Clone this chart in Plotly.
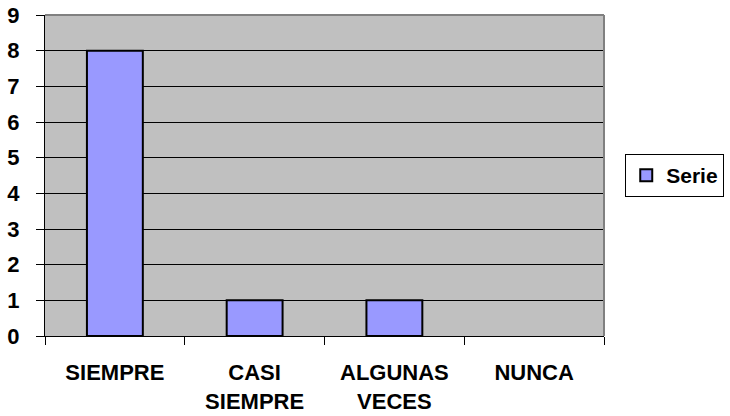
import plotly.graph_objects as go

categories = ["SIEMPRE", "CASI<br>SIEMPRE", "ALGUNAS<br>VECES", "NUNCA"]
values = [8, 1, 1, 0]
series_name = "Serie"
y_ticks = list(range(0, 10))

FONT = "Liberation Sans"
TXT = dict(family=FONT, size=22, color="black")

fig = go.Figure()
fig.add_trace(go.Bar(
    x=categories, y=values, name="<b>" + series_name + "</b>",
    marker=dict(color="#9999FF",
                line=dict(color="black", width=[2 if v else 0 for v in values])),
    width=0.4, showlegend=True,
))

fig.update_layout(
    width=730, height=416,
    margin=dict(l=45, r=126, t=15, b=80, autoexpand=False),
    paper_bgcolor="white",
    plot_bgcolor="#C0C0C0",
    font=TXT,
    showlegend=True,
    legend=dict(
        x=1.038, y=0.5, xanchor="left", yanchor="middle",
        bordercolor="black", borderwidth=1,
        font=dict(family=FONT, size=21, color="black"),
        itemwidth=30,
    ),
)

fig.update_xaxes(
    type="category", automargin=False,
    tickson="boundaries",
    ticks="outside", ticklen=8, tickcolor="black", tickwidth=1,
    showline=True, linecolor="black", linewidth=1,
    showgrid=False,
    tickvals=categories,
    ticktext=["<b>" + c + "</b>" for c in categories],
    ticklabelstandoff=17,
    tickfont=TXT,
)
fig.update_yaxes(
    range=[0, 9], automargin=False,
    tickvals=y_ticks,
    ticktext=["<b>%d</b>" % t for t in y_ticks],
    ticks="outside", ticklen=8, tickcolor="black", tickwidth=1,
    showline=True, linecolor="black", linewidth=1,
    showgrid=True, gridcolor="black", gridwidth=1,
    zeroline=False,
    ticklabelstandoff=12,
    tickfont=TXT,
)

fig.add_shape(type="line", xref="paper", yref="paper",
              x0=1, x1=1, y0=0, y1=1, line=dict(color="#808080", width=2))
fig.add_shape(type="line", xref="paper", yref="paper",
              x0=0, x1=1, y0=1, y1=1, line=dict(color="#808080", width=2))

fig.write_html("out.html", config={"displayModeBar": False},
               post_script="document.body.style.margin='0';")
